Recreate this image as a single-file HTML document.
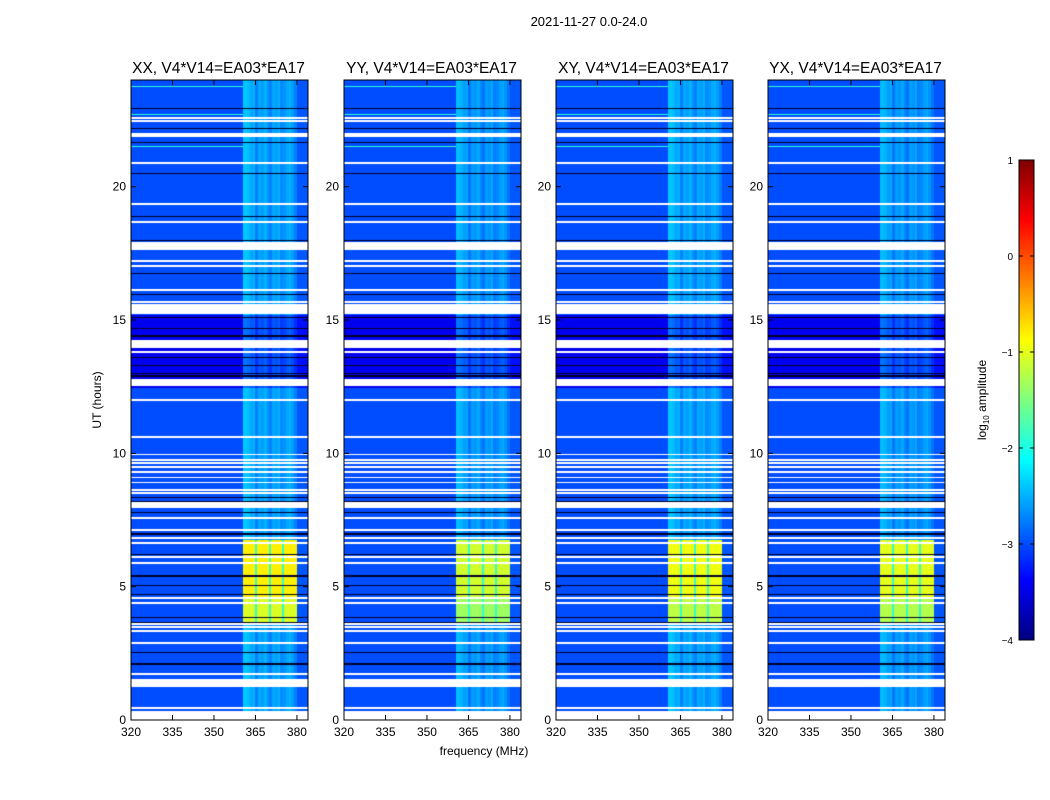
<!DOCTYPE html>
<html><head><meta charset="utf-8"><style>
body{margin:0;background:#fff;width:1050px;height:800px;overflow:hidden;font-family:"Liberation Sans",sans-serif}
#wrap{position:relative;width:1050px;height:800px}
canvas{position:absolute}
svg{position:absolute;left:0;top:0}
</style></head><body>
<div id="wrap">
<svg id="ax" width="1050" height="800"></svg>
</div>
<script>
// ---- data ----
const panels = ["XX, V4*V14=EA03*EA17","YY, V4*V14=EA03*EA17","XY, V4*V14=EA03*EA17","YX, V4*V14=EA03*EA17"];
const blockLevel = [-0.8,-1.1,-0.95,-1.0];
const bandLevel = [-2.65,-2.7,-2.65,-2.7];
// per-MHz offsets within the 361..380 band
const bandProfile = [0.25,0.2,0.1,0.15,-0.1,0.1,0.05,0.15,0,-0.1,0.1,0.05,0.15,-0.05,0,0.1,0.15,0.05,-0.1,-0.2];
const bgLevel = -3.0;
const darkLevel = -3.45;
const darkRange = [12.45,15.2];
const bandRange = [360.5,380];
const edgeLevel = -2.95;
const blockRange = [3.6,6.75];
const blockGaps = [365.3,370.4,374.9];
const whiteGaps = [[22.52,22.62],[22.42,22.5],[21.86,22.0],[20.85,20.93],[19.31,19.39],[18.63,18.71],[17.62,17.93],[17.17,17.25],[16.97,17.08],[16.08,16.16],[15.63,15.71],[15.22,15.6],[13.95,14.25],[13.76,13.84],[12.52,12.79],[11.96,12.04],[10.57,10.65],[9.92,9.97],[9.72,9.77],[9.61,9.66],[9.46,9.51],[9.27,9.32],[9.08,9.13],[8.88,8.94],[8.6,8.65],[8.49,8.54],[7.95,8.17],[7.54,7.6],[7.09,7.15],[6.79,6.85],[6.61,6.67],[6.08,6.14],[5.86,5.92],[4.54,4.6],[4.36,4.42],[3.57,3.63],[3.46,3.52],[3.31,3.37],[2.86,2.92],[1.7,1.78],[1.24,1.54],[0.42,0.48],[0,0.35]];
const blackLines = [22.95,22.2,21.67,20.51,18.9,18.0,16.76,15.97,15.1,14.7,14.4,13.6,13.3,13.0,12.9,8.36,8.21,7.8,7.01,6.94,6.22,5.4,5.06,4.69,3.86,3.67,2.55,2.1];
const rfiLines = [23.75,22.7,21.5];
const yTicks = [0,5,10,15,20];
const xTicks = [320,335,350,365,380];
const cbTicks = [1,0,-1,-2,-3,-4];

// ---- geometry ----
const px0=[131,344,556,768], pw=177, plotTop=80, plotBot=720;
const fx=(f,i)=>px0[i]+(f-320)*pw/64;
const ty=h=>plotBot-h*(plotBot-plotTop)/24;
const vmin=-4,vmax=1;
const H=plotBot-plotTop, halfRow=12/H;
function jet(v){let t=Math.max(0,Math.min(1,(v-vmin)/(vmax-vmin)));
 const c=x=>Math.round(255*Math.max(0,Math.min(1,x)));
 return [c(Math.min(4*t-1.5,-4*t+4.5)),c(Math.min(4*t-0.5,-4*t+3.5)),c(Math.min(4*t+0.5,-4*t+2.5))];}

function level(f,h,i){
 for(const g of whiteGaps){const m=(g[0]+g[1])/2;
   if((h>=g[0]&&h<=g[1])||(m>h-halfRow&&m<=h+halfRow)) return null;}
 for(const b of blackLines) if(b>h-halfRow&&b<=h+halfRow) return 'k';
 const dark=h>=darkRange[0]&&h<=darkRange[1];
 let v=dark?darkLevel:bgLevel;
 if(f>=bandRange[0]&&f<=bandRange[1]){
   const p=bandProfile[Math.max(0,Math.min(bandProfile.length-1,Math.floor(f-361)))];
   v=(dark?-3.05:bandLevel[i])+p;
   if(h>=blockRange[0]&&h<=blockRange[1]){v=blockLevel[i]+(h<4.6?-0.25:0);
     for(const g of blockGaps) if(Math.abs(f-g)<0.35) v=-1.9;}
 } else if(f>bandRange[1]) v=dark?-3.3:edgeLevel;
 else { for(const r of rfiLines) if(r>h-halfRow&&r<=h+halfRow) v=-1.9; }
 return v;
}

const wrap=document.getElementById('wrap');
panels.forEach((name,i)=>{
 const cv=document.createElement('canvas');
 
 
 cv.width=pw;cv.height=H;cv.style.left=px0[i]+'px';cv.style.top=plotTop+'px';
 wrap.insertBefore(cv,wrap.firstChild);
 const ctx=cv.getContext('2d');const img=ctx.createImageData(pw,H);
 for(let y=0;y<H;y++){const h=24-(y+0.5)*24/H;
  for(let x=0;x<pw;x++){const f=320+(x+0.5)*64/pw;const v=level(f,h,i);
   let c=v===null?[255,255,255]:v==='k'?[0,0,40]:jet(v);
   const k=(y*pw+x)*4;img.data[k]=c[0];img.data[k+1]=c[1];img.data[k+2]=c[2];img.data[k+3]=255;}}
 ctx.putImageData(img,0,0);
});
// colorbar
const cb=document.createElement('canvas');


cb.width=15;cb.height=480;cb.style.left='1019px';cb.style.top='160px';
wrap.insertBefore(cb,wrap.firstChild);
{const c=cb.getContext('2d');for(let y=0;y<480;y++){const v=vmax-(y+0.5)*(vmax-vmin)/480;const k=jet(v);c.fillStyle=`rgb(${k[0]},${k[1]},${k[2]})`;c.fillRect(0,y,15,1);}}

// axes svg
const NS='http://www.w3.org/2000/svg',svg=document.getElementById('ax');
function el(t,a,txt){const e=document.createElementNS(NS,t);for(const k in a)e.setAttribute(k,a[k]);if(txt!==undefined)e.textContent=txt;svg.appendChild(e);return e;}
let e=el('text',{x:589,y:26,'font-size':13,'text-anchor':'middle'},'2021-11-27 0.0-24.0');


panels.forEach((name,i)=>{
 const x0=px0[i];
 let r=el('rect',{x:x0,y:plotTop,width:pw,height:H,fill:'none',stroke:'#000','stroke-width':1});
 
 
 let t=el('text',{x:x0+pw/2-1,y:73,'font-size':15.5,'text-anchor':'middle'},name);
 
 
 yTicks.forEach(h=>{const y=ty(h);
  el('line',{x1:x0,x2:x0+5,y1:y,y2:y,stroke:'#000'});el('line',{x1:x0+pw-5,x2:x0+pw,y1:y,y2:y,stroke:'#000'});
  const l=el('text',{x:x0-5,y:y+4,'font-size':12,'text-anchor':'end'},String(h));
  
  });
 xTicks.forEach(f=>{const x=fx(f,i);
  el('line',{x1:x,x2:x,y1:plotBot,y2:plotBot-5,stroke:'#000'});el('line',{x1:x,x2:x,y1:plotTop,y2:plotTop+5,stroke:'#000'});
  const l=el('text',{x:x,y:plotBot+16,'font-size':12,'text-anchor':'middle'},String(f));
  
  });
});
e=el('text',{x:101,y:400,'font-size':12,'text-anchor':'middle',transform:'rotate(-90 101 400)'},'UT (hours)');


e=el('text',{x:484,y:755,'font-size':12,'text-anchor':'middle'},'frequency (MHz)');


let cr=el('rect',{x:1019,y:160,width:15,height:480,fill:'none',stroke:'#000'});


cbTicks.forEach(v=>{const y=160+(vmax-v)*480/(vmax-vmin);
 el('line',{x1:1019,x2:1023,y1:y,y2:y,stroke:'#000'});el('line',{x1:1030,x2:1034,y1:y,y2:y,stroke:'#000'});
 const l=el('text',{x:1013,y:y+4,'font-size':10,'text-anchor':'end'},v<0?'\u2212'+(-v):String(v));
 
 });
e=el('text',{x:986,y:400,'font-size':12,'text-anchor':'middle',transform:'rotate(-90 986 400)'});


e.innerHTML='log<tspan font-size="8" dy="3">10</tspan><tspan dy="-3"> amplitude</tspan>';
</script>
</body></html>
